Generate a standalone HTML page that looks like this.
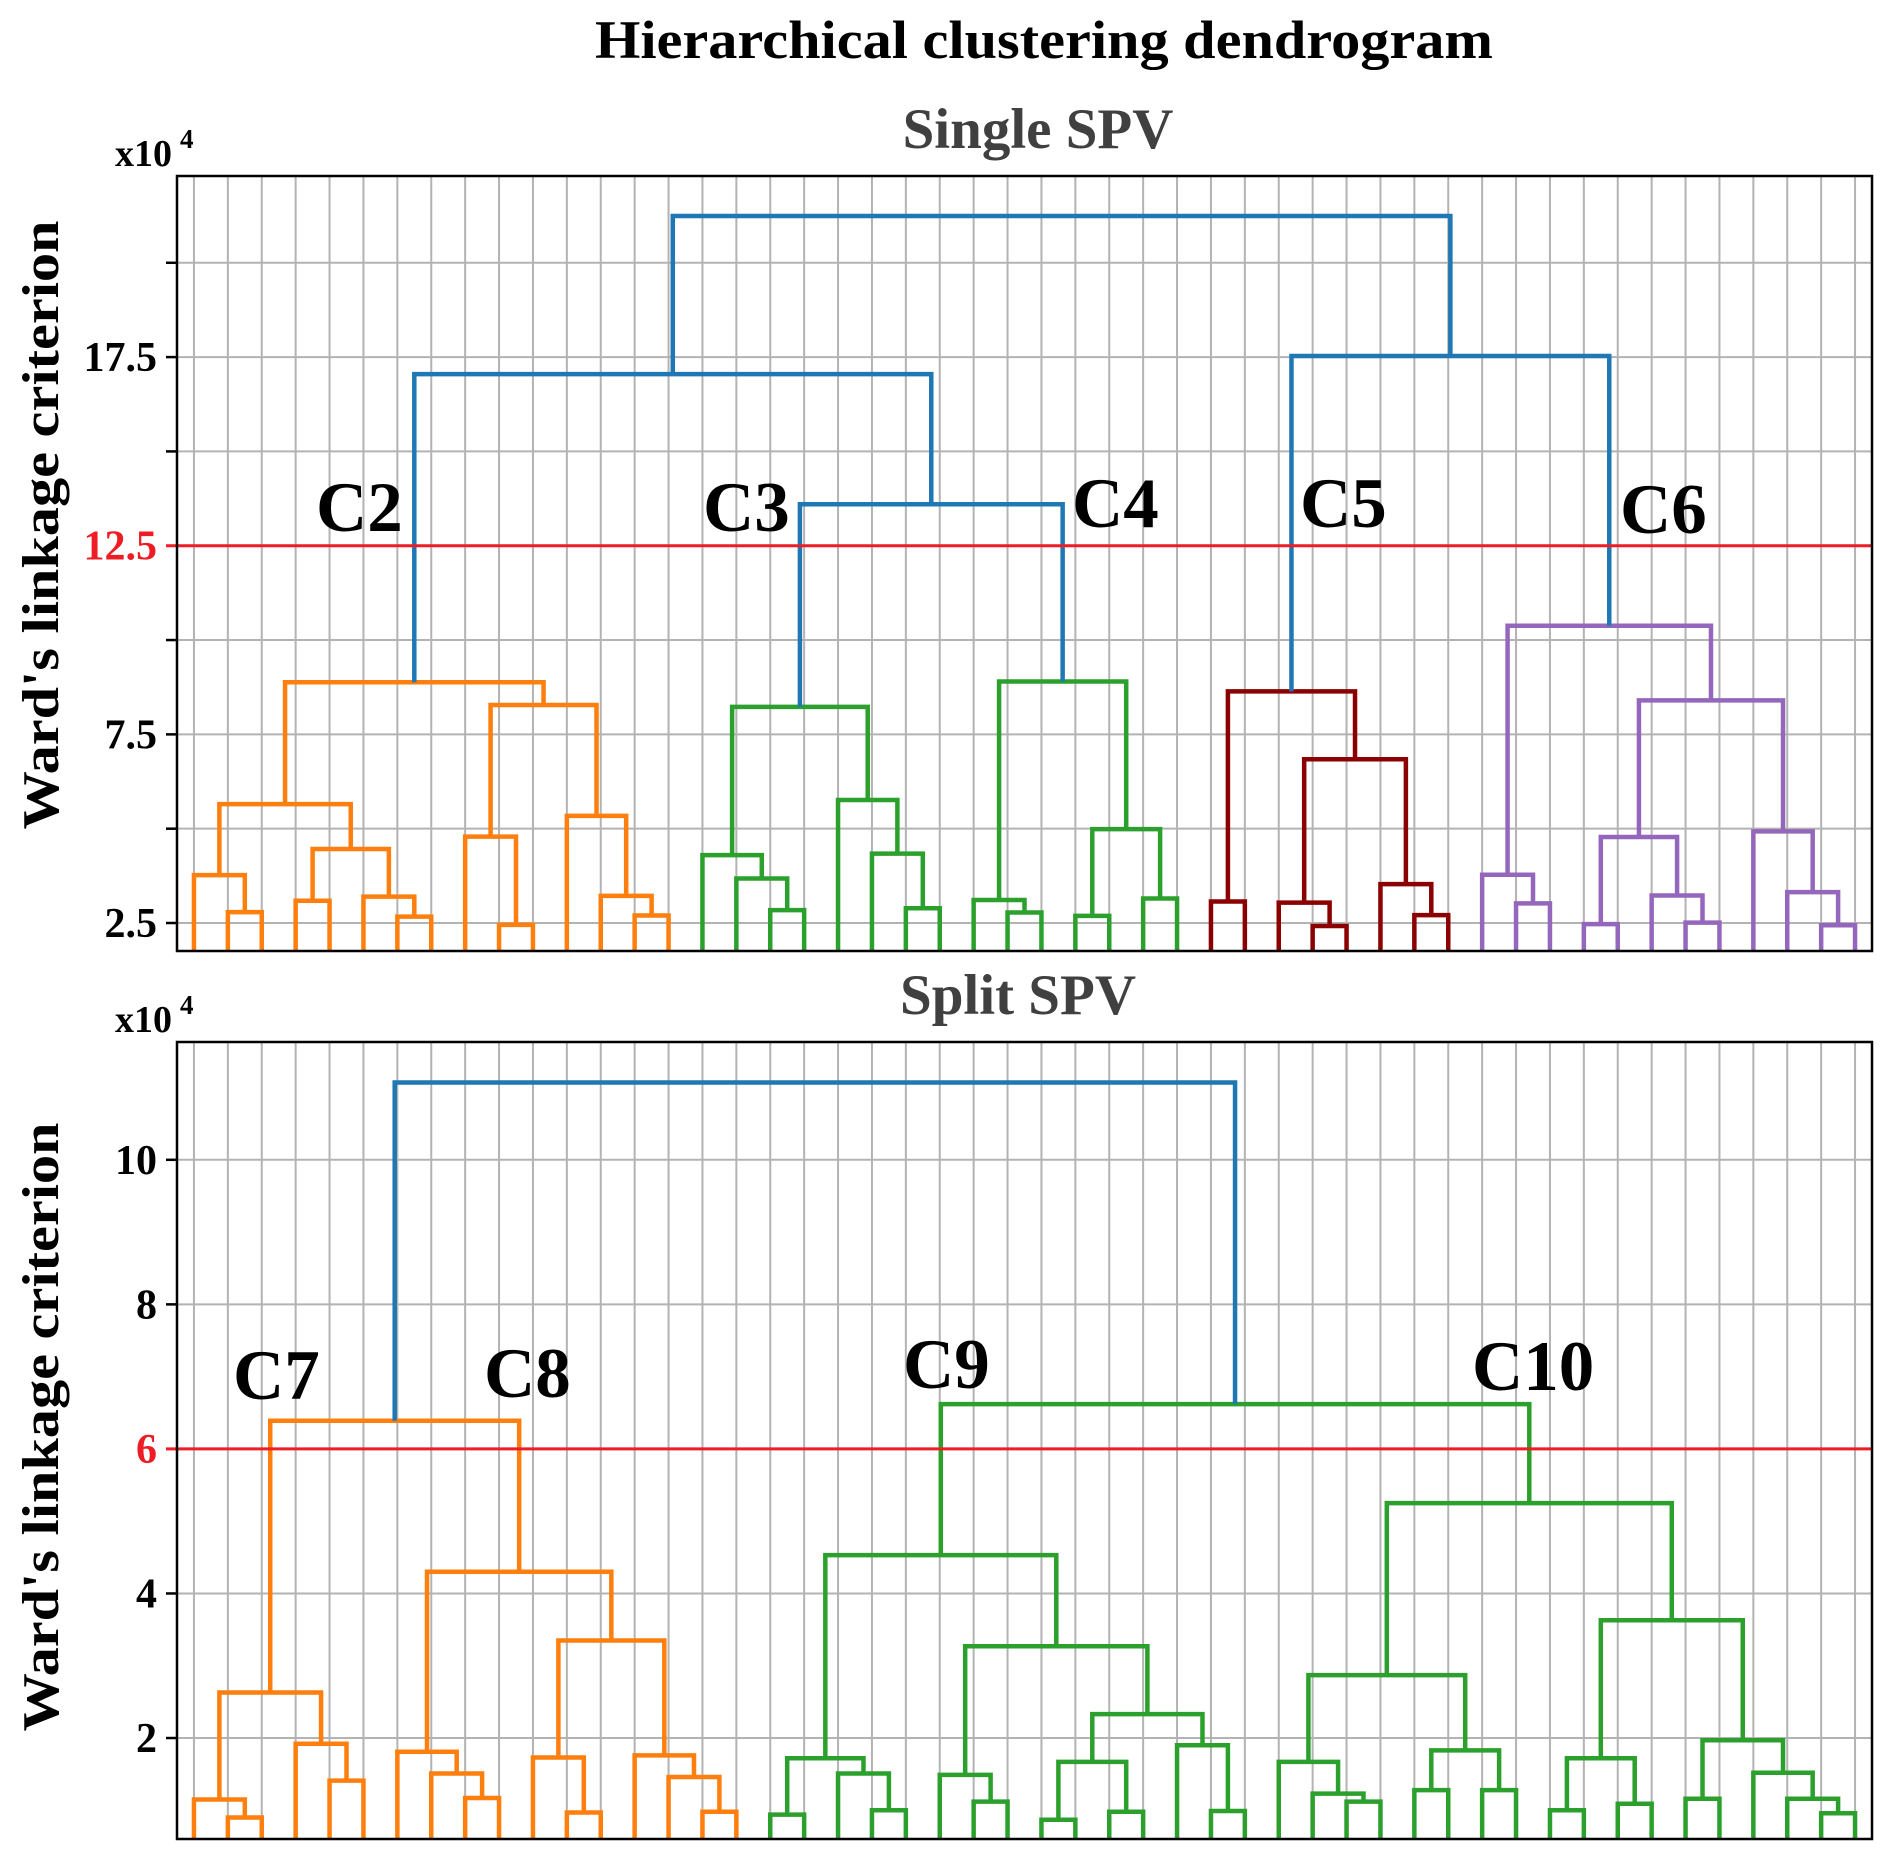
<!DOCTYPE html>
<html><head><meta charset="utf-8"><title>Hierarchical clustering dendrogram</title>
<style>
html,body{margin:0;padding:0;background:#fff;}
svg{display:block;}
text{font-family:"Liberation Serif","Times New Roman",serif;font-weight:bold;}
</style></head>
<body>
<svg id="fig" width="1892" height="1860" viewBox="0 0 1892 1860" xmlns="http://www.w3.org/2000/svg">
<defs>
<clipPath id="clipTop"><rect x="177" y="176" width="1695" height="775"/></clipPath>
<clipPath id="clipBot"><rect x="177" y="1042" width="1695" height="797"/></clipPath>
</defs>
<text x="1044" y="58" font-size="54" text-anchor="middle" textLength="898" lengthAdjust="spacingAndGlyphs" fill="#000">Hierarchical clustering dendrogram</text>
<g id="top"></g>
<g id="bot"></g>
</svg>
<script>
// ---------- Top panel data (Single SPV) ----------
const topLeafCount = 50;
const topMergeA = [1,0,3,6,5,52,51,9,8,13,12,11,58,56,17,16,15,21,20,19,66,24,23,26,28,73,72,70,63,30,33,32,36,35,81,79,39,38,41,44,43,88,48,47,46,91,87,85,78];
const topMergeB = [2,50,4,7,53,54,55,10,57,14,59,60,61,62,18,64,65,22,67,68,69,25,71,27,29,74,75,76,77,31,34,80,37,82,83,84,40,86,42,45,89,90,49,92,93,94,95,96,97];
const topMergeH = [2.79,3.77,3.09,2.67,3.20,4.46,5.65,2.45,4.79,2.70,3.22,5.34,8.28,8.88,2.84,3.68,4.30,2.89,4.34,5.76,8.23,2.78,3.11,2.69,3.15,4.99,8.90,13.60,17.05,3.07,2.42,3.04,2.71,3.53,6.84,8.64,3.02,3.78,2.47,2.51,3.23,4.78,2.44,3.32,4.93,8.40,10.38,17.53,21.24];
const topMergeC = ['o','o','o','o','o','o','o','o','o','o','o','o','o','o','g','g','g','g','g','g','g','g','g','g','g','g','g','b','b','r','r','r','r','r','r','r','p','p','p','p','p','p','p','p','p','p','p','b','b'];
const topTicks = [2.5,5,7.5,10,12.5,15,17.5,20];
const topTickLabels = ['2.5','','7.5','','12.5','','17.5',''];
const topThreshold = 12.5;
const topClusterNames = ['C2','C3','C4','C5','C6'];

// ---------- Bottom panel data (Split SPV) ----------
const botLeafCount = 50;
const botMergeA = [1,0,4,3,51,8,7,6,11,10,15,14,13,59,57,54,17,20,19,66,23,22,25,27,72,30,29,74,71,69,34,33,32,36,38,83,82,40,42,87,44,48,47,46,90,89,86,79,65];
const botMergeB = [2,50,5,52,53,9,55,56,12,58,16,60,61,62,63,64,18,21,67,68,24,70,26,28,73,31,75,76,77,78,35,80,81,37,39,84,85,41,43,88,45,49,91,92,93,94,95,96,97];
const botMergeH = [0.90,1.15,1.41,1.92,2.63,1.17,1.51,1.81,0.97,1.73,0.98,1.46,1.76,3.35,4.30,6.39,0.94,1.00,1.51,1.72,1.12,1.49,0.87,0.98,1.67,0.99,1.90,2.33,3.27,4.53,1.12,1.23,1.67,1.28,1.28,1.83,2.87,1.00,1.09,1.72,1.16,0.96,1.16,1.52,1.97,3.63,5.25,6.62,11.07];
const botMergeC = ['o','o','o','o','o','o','o','o','o','o','o','o','o','o','o','o','g','g','g','g','g','g','g','g','g','g','g','g','g','g','g','g','g','g','g','g','g','g','g','g','g','g','g','g','g','g','g','g','b'];
const botTicks = [2,4,6,8,10];
const botTickLabels = ['2','4','6','8','10'];
const botThreshold = 6;
const botClusterNames = ['C7','C8','C9','C10'];

const COLORS = {o:'#ff7f0e', g:'#2ca02c', b:'#1f77b4', r:'#8b0000', p:'#9467bd'};
const NS = 'http://www.w3.org/2000/svg';

function mk(parent, tag, attrs, txt){
  const e = document.createElementNS(NS, tag);
  for (const k in attrs) e.setAttribute(k, attrs[k]);
  if (txt !== undefined) e.textContent = txt;
  parent.appendChild(e);
  return e;
}

function drawPanel(g, cfg){
  const L = cfg.left, R = cfg.right, T = cfg.top, B = cfg.bottom;
  const xLeaf = i => L + (R - L) * (i + 0.5) / cfg.n;
  const yVal = v => T + (cfg.vmax - v) / (cfg.vmax - cfg.vmin) * (B - T);

  const st = mk(g, 'text', {x: cfg.titleX, y: cfg.titleY, 'font-size': 57, 'text-anchor': 'middle', fill: '#404040'}, cfg.title);
  
  

  const grid = mk(g, 'g', {});
  
  
  for (let i = 0; i < cfg.n; i++) {
    const x = xLeaf(i);
    const ln = mk(grid, 'line', {x1: x, x2: x, y1: T, y2: B, stroke: '#b3b3b3', 'stroke-width': 2});
    
    
  }
  cfg.ticks.forEach((v, k) => {
    const y = yVal(v);
    const isThr = v === cfg.threshold;
    if (!isThr) {
      const ln = mk(grid, 'line', {x1: L, x2: R, y1: y, y2: y, stroke: '#b3b3b3', 'stroke-width': 2});
      
      
    }
    const tk = mk(g, 'line', {x1: L - 11, x2: L, y1: y, y2: y, stroke: isThr ? '#ee1c25' : '#000', 'stroke-width': 2.5});
    
    
    if (cfg.tickLabels[k]) {
      const tl = mk(g, 'text', {x: L - 20, y: y + 14, 'font-size': 42, 'text-anchor': 'end', fill: isThr ? '#ee1c25' : '#000'}, cfg.tickLabels[k]);
      
      
    }
  });

  const dg = mk(g, 'g', {'clip-path': 'url(#' + cfg.clip + ')', fill: 'none', 'stroke-width': 4.5, 'stroke-linejoin': 'miter'});
  
  
  const nx = [], nh = [];
  for (let i = 0; i < cfg.n; i++) { nx[i] = i; nh[i] = cfg.vmin - 1; }
  for (let k = 0; k < cfg.A.length; k++) {
    const a = cfg.A[k], b = cfg.B[k], h = cfg.H[k];
    const xa = xLeaf(nx[a]), xb = xLeaf(nx[b]);
    const ya = yVal(nh[a]), yb = yVal(nh[b]), yh = yVal(h);
    const p = mk(dg, 'path', {d: 'M' + xa + ' ' + ya + 'V' + yh + 'H' + xb + 'V' + yb, stroke: COLORS[cfg.C[k]]});
    
    
    nx[cfg.n + k] = (nx[a] + nx[b]) / 2;
    nh[cfg.n + k] = h;
  }

  const ty = yVal(cfg.threshold);
  const thr = mk(g, 'line', {x1: L - 11, x2: R, y1: ty, y2: ty, stroke: '#ee1c25', 'stroke-width': 3});
  
  

  const fr = mk(g, 'rect', {x: L, y: T, width: R - L, height: B - T, fill: 'none', stroke: '#000', 'stroke-width': 2.5});
  
  

  const mul = mk(g, 'text', {x: 115, y: T - 10, 'font-size': 38, fill: '#000'});
  
  
  mk(mul, 'tspan', {}, 'x10');
  mk(mul, 'tspan', {dx: 8, dy: -18, 'font-size': 27}, '4');

  const yt = mk(g, 'text', {x: 0, y: 0, 'font-size': 52, 'text-anchor': 'middle', fill: '#000',
    textLength: cfg.ylabLen, lengthAdjust: 'spacingAndGlyphs',
    transform: 'translate(58,' + cfg.ylabY + ') rotate(-90)'}, "Ward's linkage criterion");
  
  

  cfg.names.forEach((nm, i) => {
    const t = mk(g, 'text', {x: cfg.nameX[i], y: cfg.nameY[i], 'font-size': 71, fill: '#000'}, nm);
    
    
  });
}

drawPanel(document.getElementById('top'), {
  left: 177, right: 1872, top: 176, bottom: 951, vmin: 1.758, vmax: 22.30, n: topLeafCount,
  A: topMergeA, B: topMergeB, H: topMergeH, C: topMergeC,
  ticks: topTicks, tickLabels: topTickLabels, threshold: topThreshold,
  clip: 'clipTop', title: 'Single SPV', titleX: 1038, titleY: 148,
  ylabY: 525, ylabLen: 609,
  names: topClusterNames, nameX: [316, 703, 1072, 1300, 1620], nameY: [531, 531, 527, 527, 533]
});
drawPanel(document.getElementById('bot'), {
  left: 177, right: 1872, top: 1042, bottom: 1839, vmin: 0.603, vmax: 11.63, n: botLeafCount,
  A: botMergeA, B: botMergeB, H: botMergeH, C: botMergeC,
  ticks: botTicks, tickLabels: botTickLabels, threshold: botThreshold,
  clip: 'clipBot', title: 'Split SPV', titleX: 1018, titleY: 1014,
  ylabY: 1427, ylabLen: 609,
  names: botClusterNames, nameX: [233, 484, 903, 1472], nameY: [1399, 1397, 1388, 1390]
});
</script>
</body></html>
